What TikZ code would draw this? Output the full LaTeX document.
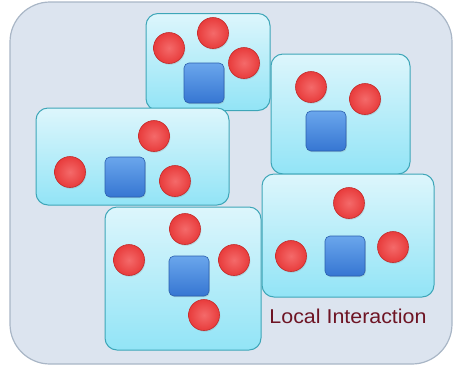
\documentclass[tikz,border=0pt]{standalone}
\usepackage{fontspec}
\setmainfont{Liberation Sans}
\usetikzlibrary{shadows}
\definecolor{outerfill}{HTML}{DCE4EF}
\definecolor{outerline}{HTML}{A9B6C6}
\definecolor{boxtop}{HTML}{DDF6FC}
\definecolor{boxbot}{HTML}{92E4F6}
\definecolor{boxline}{HTML}{3EA6B8}
\definecolor{redin}{HTML}{F46A6A}
\definecolor{redout}{HTML}{E83C3C}
\definecolor{redline}{HTML}{C42A2A}
\definecolor{bluetop}{HTML}{6AA6EC}
\definecolor{bluebot}{HTML}{3676D2}
\definecolor{blueline}{HTML}{2A5FAE}
\definecolor{textred}{HTML}{6E1424}
\tikzset{
  groupbox/.style={draw=boxline, line width=1pt, rounded corners=12pt, top color=boxtop, bottom color=boxbot, inner sep=0pt},
  ball/.style={circle, draw=redline, line width=0.6pt, inner color=redin, outer color=redout, minimum size=31pt, inner sep=0pt, drop shadow={shadow xshift=0.8pt, shadow yshift=-1.2pt, opacity=0.25}},
  cube/.style={draw=blueline, line width=0.6pt, rounded corners=5pt, top color=bluetop, bottom color=bluebot, minimum size=40pt, inner sep=0pt, drop shadow={shadow xshift=0.8pt, shadow yshift=-1.2pt, opacity=0.25}}
}
\begin{document}
\begin{tikzpicture}[x=1pt,y=-1pt]
\useasboundingbox (0,0) rectangle (454,373);
\node[draw=outerline, line width=1.2pt, fill=outerfill, rounded corners=40pt, minimum width=442pt, minimum height=362pt, inner sep=0pt] (outer) at (231,183) {};
% group boxes
\node[groupbox, minimum width=124pt, minimum height=97pt] (b1) at (208,62) {};
\node[groupbox, minimum width=193pt, minimum height=97pt] (b3) at (132.5,156.5) {};
\node[groupbox, minimum width=139pt, minimum height=120pt] (b2) at (340.5,114) {};
\node[groupbox, minimum width=172pt, minimum height=123pt] (b4) at (348,235.5) {};
\node[groupbox, minimum width=156pt, minimum height=143pt] (b5) at (183,278.5) {};
% box 1
\node[cube] (s1) at (204,83) {};
\node[ball] (c11) at (169,48) {};
\node[ball] (c12) at (213,33) {};
\node[ball] (c13) at (244,63) {};
% box 2
\node[cube] (s2) at (326,131) {};
\node[ball] (c21) at (311,87) {};
\node[ball] (c22) at (365,99) {};
% box 3
\node[cube] (s3) at (125,177) {};
\node[ball] (c31) at (154,136) {};
\node[ball] (c32) at (70,172) {};
\node[ball] (c33) at (175,181) {};
% box 4
\node[cube] (s4) at (345,256) {};
\node[ball] (c41) at (349,203) {};
\node[ball] (c42) at (291,256) {};
\node[ball] (c43) at (393,247) {};
% box 5
\node[cube] (s5) at (189,276) {};
\node[ball] (c51) at (185,229) {};
\node[ball] (c52) at (129,260) {};
\node[ball] (c53) at (234,260) {};
\node[ball] (c54) at (204,315) {};
% label
\node[text=textred, font=\fontsize{20}{24}\selectfont, inner sep=0pt, xscale=1.07] (lbl) at (348,316) {Local Interaction};
\end{tikzpicture}
\end{document}
